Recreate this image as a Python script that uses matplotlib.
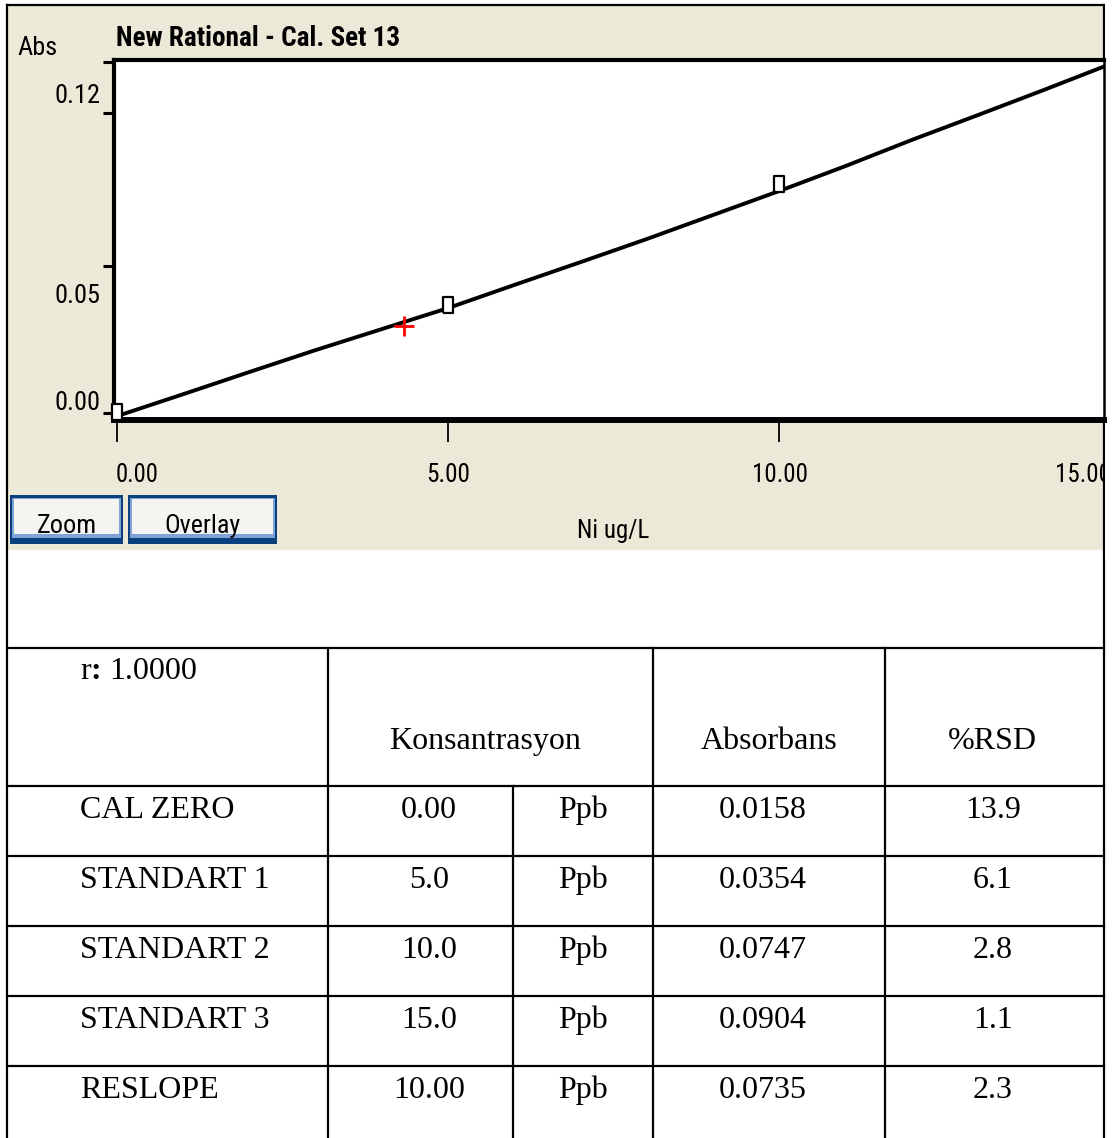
import matplotlib
matplotlib.use('Agg')
import matplotlib.pyplot as plt
from matplotlib import font_manager
from matplotlib.patches import Rectangle

# Figure size in pixels
W = 1113
H = 1138

# Calibration curve
conc_curve = [0, 1, 2, 3, 4, 5, 6, 7, 8, 9, 10, 11, 12, 13, 14, 15]
abs_curve = [0.0, 0.0073, 0.0147, 0.0220, 0.0290, 0.0360, 0.0437, 0.0513,
             0.0590, 0.0670, 0.0750, 0.0833, 0.0920, 0.1003, 0.1087, 0.1173]

# Standards (boxes) and current sample (red cross)
std_conc = [0.0, 5.0, 10.0]
std_abs = [0.0015, 0.0372, 0.0773]
sample_conc = [4.33]
sample_abs = [0.030]

# Table
row_names = ['CAL ZERO', 'STANDART 1', 'STANDART 2', 'STANDART 3', 'RESLOPE']
row_conc = ['0.00', '5.0', '10.0', '15.0', '10.00']
row_unit = ['Ppb', 'Ppb', 'Ppb', 'Ppb', 'Ppb']
row_abs = ['0.0158', '0.0354', '0.0747', '0.0904', '0.0735']
row_rsd = ['13.9', '6.1', '2.8', '1.1', '2.3']
r_value = '1.0000'
headers = ['Konsantrasyon', 'Absorbans', '%RSD']

# pick a narrow sans font for the instrument screenshot, if one is installed
installed = {f.name for f in font_manager.fontManager.ttflist}
SCREEN_FONT = ['Liberation Sans']
SCREEN_STRETCH = 'normal'
for cand in ['Liberation Sans Narrow', 'Roboto Condensed', 'DejaVu Sans Condensed',
             'Open Sans Condensed']:
    if cand in installed:
        SCREEN_FONT = [cand]
        break
else:
    if any(f.name == 'DejaVu Sans' and 'condensed' in str(f.stretch)
           for f in font_manager.fontManager.ttflist):
        SCREEN_FONT = ['DejaVu Sans']
        SCREEN_STRETCH = 'condensed'
SCREEN_FONT = SCREEN_FONT + ['DejaVu Sans']
TABLE_FONT = ['Liberation Serif', 'DejaVu Serif']
BEIGE = '#ECE9D8'

fig = plt.figure(figsize=(W / 100, H / 100), dpi=100)
fig.patch.set_facecolor('white')
renderer = fig.canvas.get_renderer()

# canvas in pixel coordinates for the frame, table and labels
bg = fig.add_axes([0, 0, 1, 1], zorder=0)
bg.set_xlim(0, W)
bg.set_ylim(H, 0)
bg.axis('off')


def screen_text(x, y, s, width, ha='left', max_size=28, **kw):
    # size the font so the label is about as wide as in the screenshot
    t = bg.text(x, y, s, family=SCREEN_FONT, fontstretch=SCREEN_STRETCH,
                fontsize=20, va='baseline', ha=ha, **kw)
    w = t.get_window_extent(renderer).width
    t.set_fontsize(min(max_size, 20 * width / w))
    return t


# beige screenshot area
bg.add_patch(Rectangle((8, 5), 1096, 545, facecolor=BEIGE, edgecolor='none'))

# titles
screen_text(116, 46, 'New Rational - Cal. Set 13', 283, weight='bold')
screen_text(17, 55, 'Abs', 40)

# y tick labels (the software puts them between the tick marks)
for lab, yb in [('0.12', 103), ('0.05', 303), ('0.00', 410)]:
    screen_text(100, yb, lab, 46, ha='right')

# x tick labels
screen_text(116, 482, '0.00', 43)
screen_text(448, 482, '5.00', 44, ha='center')
screen_text(780, 482, '10.00', 56, ha='center')
screen_text(1055, 482, '15.00', 56)
screen_text(613, 538, 'Ni ug/L', 72, ha='center')


# buttons
def button(x0, x1, label, width):
    bg.add_patch(Rectangle((x0, 495), x1 - x0, 49, facecolor='#0B3F7E', edgecolor='none'))
    bg.add_patch(Rectangle((x0 + 2, 498), x1 - x0 - 4, 40, facecolor='#7FA3D6', edgecolor='none'))
    bg.add_patch(Rectangle((x0 + 4, 499), x1 - x0 - 8, 35, facecolor='#F4F4F1', edgecolor='none'))
    screen_text((x0 + x1) / 2, 533, label, width, ha='center')


button(10, 123, 'Zoom', 60)
button(128, 277, 'Overlay', 76)

# table frame
LW = 1.6
bg.plot([7, 1104], [5, 5], color='k', lw=LW)
bg.plot([7, 7], [5, H], color='k', lw=LW)
bg.plot([1104, 1104], [5, H], color='k', lw=LW)
row_lines = [648, 786, 856, 926, 996, 1066]
for yl in row_lines:
    bg.plot([7, 1104], [yl, yl], color='k', lw=LW)
for xl in [328, 653, 885]:
    bg.plot([xl, xl], [648, H], color='k', lw=LW)
bg.plot([513, 513], [786, H], color='k', lw=LW)

# table text: "r" + bold ":" + value
t_r = bg.text(80, 679, 'r', family=TABLE_FONT, fontsize=23, va='baseline', ha='left')
x_next = 80 + t_r.get_window_extent(renderer).width
t_c = bg.text(x_next, 679, ':', family=TABLE_FONT, fontsize=23, weight='bold',
              va='baseline', ha='left')
x_next += t_c.get_window_extent(renderer).width + 8
bg.text(x_next, 679, r_value, family=TABLE_FONT, fontsize=23, va='baseline', ha='left')

for lab, xc in zip(headers, [485, 769, 992]):
    bg.text(xc, 749, lab, family=TABLE_FONT, fontsize=23, va='baseline', ha='center')
for i in range(len(row_names)):
    yb = 818 + 70 * i
    bg.text(80, yb, row_names[i], family=TABLE_FONT, fontsize=23, va='baseline', ha='left')
    bg.text(429, yb, row_conc[i], family=TABLE_FONT, fontsize=23, va='baseline', ha='center')
    bg.text(583, yb, row_unit[i], family=TABLE_FONT, fontsize=23, va='baseline', ha='center')
    bg.text(763, yb, row_abs[i], family=TABLE_FONT, fontsize=23, va='baseline', ha='center')
    bg.text(993, yb, row_rsd[i], family=TABLE_FONT, fontsize=23, va='baseline', ha='center')

# hide the part of "15.00" that runs past the frame, as in the screenshot
bg.add_patch(Rectangle((1105, 0), 20, 560, facecolor='white', edgecolor='none', zorder=5))

# the calibration plot
L, R, T, B = 114, 1104, 60, 420
ax = fig.add_axes([L / W, 1 - B / H, (R - L) / W, (B - T) / H], zorder=2)
ax.set_facecolor('white')
ax.set_xlim(-0.045, 14.91)
ax.set_ylim(-0.0013, 0.1187)

ax.plot(conc_curve, abs_curve, color='k', lw=2.8, solid_joinstyle='miter', zorder=2)
box = [(-0.5, -0.8), (0.5, -0.8), (0.5, 0.8), (-0.5, 0.8), (-0.5, -0.8)]
ax.plot(std_conc, std_abs, ls='none', marker=box, ms=11, mfc='white', mec='k',
        mew=1.6, zorder=3, clip_on=False)
ax.plot(sample_conc, sample_abs, ls='none', marker='+', ms=14, mec='red',
        mew=2.0, zorder=4)

for side, lw in [('left', 3.0), ('top', 3.0), ('bottom', 4.3), ('right', 1.8)]:
    ax.spines[side].set_linewidth(lw)
    ax.spines[side].set_color('k')

ax.set_xticks([0, 5, 10])
ax.set_xticklabels([])
ax.tick_params(axis='x', direction='out', length=16, width=1.3, color='k')
ax.set_yticks([0.001, 0.05, 0.101, 0.118])
ax.set_yticklabels([])
ax.tick_params(axis='y', direction='out', length=8, width=2.2, color='k')

fig.savefig('out.png', dpi=100, facecolor='white')
